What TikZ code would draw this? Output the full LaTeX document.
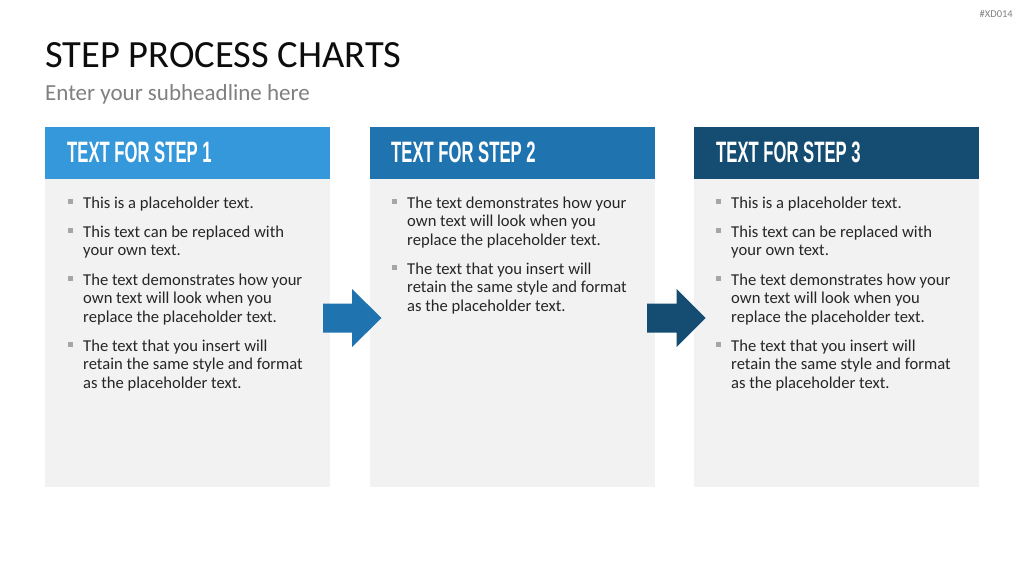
\documentclass[tikz,border=0pt]{standalone}
\usepackage{fontspec}
\setmainfont{Carlito}
\newfontfamily\headfont[FakeStretch=0.565]{Liberation Sans}
\definecolor{cone}{RGB}{52,152,219}
\definecolor{ctwo}{RGB}{31,116,176}
\definecolor{cthree}{RGB}{21,76,113}
\definecolor{bodyc}{RGB}{242,242,242}
\definecolor{bulc}{RGB}{166,166,166}
\definecolor{txtc}{RGB}{38,38,38}
\definecolor{subc}{RGB}{128,128,128}
\definecolor{titlec}{RGB}{13,13,13}
\begin{document}
\begin{tikzpicture}[x=1pt,y=-1pt,
  bodybox/.style={fill=bodyc,draw=none,minimum width=285pt,minimum height=308pt,anchor=north west,inner sep=0pt},
  headbox/.style={fill=#1,draw=none,minimum width=285pt,minimum height=52pt,anchor=north west,inner sep=0pt},
  headtext/.style={anchor=base west,inner sep=0pt,text=white,font=\headfont\bfseries\fontsize{29.5}{32}\selectfont},
  item/.style={anchor=base west,inner sep=0pt,align=left,text=txtc,font=\fontsize{16.6}{18.5}\selectfont},
  bul/.style={fill=bulc,draw=none,minimum size=4.5pt,inner sep=0pt,anchor=center},
  arrowshape/.style={fill=#1,draw=none}
]
\useasboundingbox (0,0) rectangle (1024,576);
\fill[white] (0,0) rectangle (1024,576);

% corner tag
\node[anchor=base east,inner sep=0pt,text=subc,font=\fontsize{10.5}{11}\selectfont] (tag) at (1013,17) {\#XD014};

% title
\node[anchor=base west,inner sep=0pt,text=titlec,font=\fontsize{38.5}{42}\selectfont] (title) at (45,67.5) {STEP PROCESS CHARTS};
\node[anchor=base west,inner sep=0pt,text=subc,font=\fontsize{23}{26}\selectfont] (sub) at (45,100.5) {Enter your subheadline here};

% boxes
\node[bodybox] (b1) at (45,179) {};
\node[bodybox] (b2) at (370,179) {};
\node[bodybox] (b3) at (694,179) {};
\node[headbox=cone] (h1) at (45,127) {};
\node[headbox=ctwo] (h2) at (370,127) {};
\node[headbox=cthree] (h3) at (694,127) {};
\node[headtext] (h1t) at (67,162.5) {TEXT FOR STEP 1};
\node[headtext] (h2t) at (391,162.5) {TEXT FOR STEP 2};
\node[headtext] (h3t) at (716,162.5) {TEXT FOR STEP 3};

% arrows
\fill[arrowshape=ctwo] (323,303.5) -- (352,303.5) -- (352,289) -- (381.5,318) -- (352,347) -- (352,332.5) -- (323,332.5) -- cycle;
\fill[arrowshape=cthree] (647,303.5) -- (676.5,303.5) -- (676.5,289) -- (705.5,318) -- (676.5,347) -- (676.5,332.5) -- (647,332.5) -- cycle;

% column 1 (anchor = baseline of last line)
\node[item] (a1) at (83,208) {This is a placeholder text.};
\node[item] (a2) at (83,255.5) {This text can be replaced with\\your own text.};
\node[item] (a3) at (83,322) {The text demonstrates how your\\own text will look when you\\replace the placeholder text.};
\node[item] (a4) at (83,388) {The text that you insert will\\retain the same style and format\\as the placeholder text.};
\node[bul] (a1b) at (70.3,201.3) {};
\node[bul] (a2b) at (70.3,230.3) {};
\node[bul] (a3b) at (70.3,278.3) {};
\node[bul] (a4b) at (70.3,344.3) {};

% column 2
\node[item] (c1) at (407,245) {The text demonstrates how your\\own text will look when you\\replace the placeholder text.};
\node[item] (c2) at (407,311) {The text that you insert will\\retain the same style and format\\as the placeholder text.};
\node[bul] (c1b) at (394.3,201.3) {};
\node[bul] (c2b) at (394.3,267.3) {};

% column 3
\node[item] (d1) at (731,208) {This is a placeholder text.};
\node[item] (d2) at (731,255.5) {This text can be replaced with\\your own text.};
\node[item] (d3) at (731,322) {The text demonstrates how your\\own text will look when you\\replace the placeholder text.};
\node[item] (d4) at (731,388) {The text that you insert will\\retain the same style and format\\as the placeholder text.};
\node[bul] (d1b) at (718.3,201.3) {};
\node[bul] (d2b) at (718.3,230.3) {};
\node[bul] (d3b) at (718.3,278.3) {};
\node[bul] (d4b) at (718.3,344.3) {};
\end{tikzpicture}
\end{document}
